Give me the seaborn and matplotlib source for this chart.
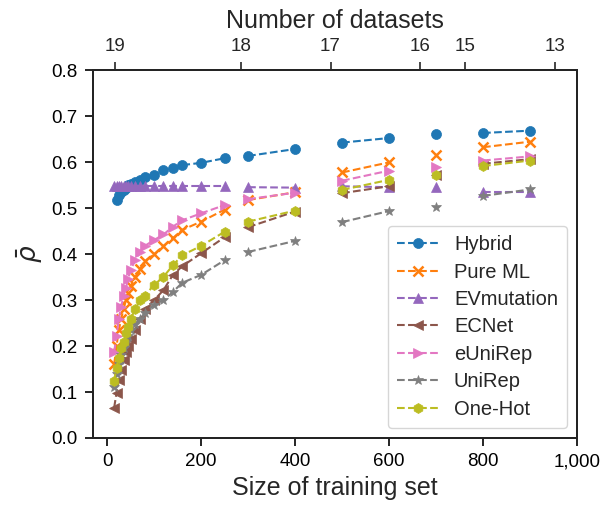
import numpy as np
import pandas as pd
import seaborn as sns
import matplotlib
matplotlib.use("Agg")
import matplotlib.pyplot as plt
from matplotlib.lines import Line2D
from matplotlib.ticker import StrMethodFormatter

# ---------------- data ----------------
train_sizes = [15, 20, 25, 30, 35, 40, 45, 50, 60, 70, 80, 100, 120, 140, 160, 200, 250,
               300, 400, 500, 600, 700, 800, 900]
segments = [1] * 17 + [2, 2, 3, 3, 4, 5, 5]

hybrid = [np.nan, 0.518, 0.528, 0.535, 0.540, 0.545, 0.550, 0.553, 0.558, 0.562, 0.568, 0.573,
          0.584, 0.587, 0.594, 0.599, 0.609,
          0.614, 0.629, 0.643, 0.653, 0.661, 0.664, 0.669]
pure_ml = [0.160, 0.200, 0.235, 0.260, 0.280, 0.300, 0.315, 0.330, 0.350, 0.368, 0.385, 0.400,
           0.418, 0.435, 0.453, 0.471, 0.497,
           0.518, 0.535, 0.578, 0.600, 0.616, 0.633, 0.645]
evmutation = [0.549] * 17 + [0.546, 0.545, 0.548, 0.546, 0.546, 0.535, 0.535]
ecnet = [0.066, 0.098, 0.126, 0.148, 0.169, 0.187, 0.200, 0.215, 0.235, 0.260, 0.280, 0.300,
         0.322, 0.355, 0.374, 0.402, 0.437,
         0.459, 0.493, 0.533, 0.548, 0.572, 0.597, 0.607]
eunirep = [0.187, 0.222, 0.260, 0.286, 0.309, 0.326, 0.347, 0.366, 0.387, 0.405, 0.418, 0.431,
           0.443, 0.460, 0.474, 0.489, 0.507,
           0.520, 0.534, 0.560, 0.582, 0.591, 0.604, 0.613]
unirep = [0.111, 0.140, 0.160, 0.180, 0.195, 0.210, 0.222, 0.235, 0.248, 0.260, 0.272, 0.290,
          0.300, 0.318, 0.338, 0.355, 0.387,
          0.405, 0.429, 0.470, 0.494, 0.502, 0.527, 0.541]
one_hot = [0.124, 0.153, 0.175, 0.195, 0.209, 0.228, 0.242, 0.260, 0.280, 0.300, 0.310, 0.333,
           0.351, 0.376, 0.398, 0.418, 0.449,
           0.471, 0.495, 0.540, 0.562, 0.572, 0.592, 0.604]

models = ["Hybrid", "Pure ML", "EVmutation", "ECNet", "eUniRep", "UniRep", "One-Hot"]
series = [hybrid, pure_ml, evmutation, ecnet, eunirep, unirep, one_hot]

top_tick_pos = [20, 300, 500, 700, 800, 1000]
top_tick_labels = ["19", "18", "17", "16", "15", "13"]

# ---------------- style ----------------
sns.set_style("ticks")
plt.rcParams["font.family"] = ["Liberation Sans", "DejaVu Sans"]
plt.rcParams["mathtext.fontset"] = "dejavusans"

colors = ["#1f77b4", "#ff7f0e", "#9467bd", "#8c564b", "#e377c2", "#7f7f7f", "#bcbd22"]
markers = ["o", "x", "^", "<", ">", "*", "h"]

fig = plt.figure(figsize=(6.02, 5.09), dpi=100)
ax = fig.add_axes([0.1545, 0.1395, 0.804, 0.722])

for m, vals, c, mk in zip(models, series, colors, markers):
    d = pd.DataFrame({"size": train_sizes, "seg": segments, "rho": vals}).dropna()
    sns.lineplot(data=d, x="size", y="rho", units="seg", estimator=None, color=c,
                 marker=mk, markersize=7.2, linewidth=1.5, linestyle="--",
                 markeredgecolor=c, markeredgewidth=(1.8 if mk == "x" else 0.5),
                 legend=False, ax=ax, sort=True)

ax.set_xlim(-30, 1000)
ax.set_ylim(0, 0.8)
ax.set_xticks([0, 200, 400, 600, 800, 1000])
ax.xaxis.set_major_formatter(StrMethodFormatter("{x:,.0f}"))
ax.set_yticks(np.arange(0, 0.81, 0.1))
ax.yaxis.set_major_formatter(StrMethodFormatter("{x:.1f}"))
ax.tick_params(labelsize=13.5, length=6, width=1.2, pad=5, colors="black")
for sp in ax.spines.values():
    sp.set_linewidth(1.3)
    sp.set_color("black")
ax.set_xlabel("Size of training set", fontsize=18, labelpad=4)
ax.set_ylabel(r"$\bar{\rho}$", fontsize=19, labelpad=5)

ax2 = ax.twiny()
ax2.set_xlim(-29, 1049)
ax2.set_xticks(top_tick_pos)
ax2.set_xticklabels(top_tick_labels)
ax2.tick_params(labelsize=13.5, length=6, width=1.2, pad=5)
ax2.set_xlabel("Number of datasets", fontsize=18, labelpad=7)
for sp in ax2.spines.values():
    sp.set_linewidth(1.3)

handles = [Line2D([], [], color=c, marker=mk, linestyle="--", markersize=7.2,
                  markeredgecolor=c, markeredgewidth=(1.8 if mk == "x" else 0.5), linewidth=1.5)
           for c, mk in zip(colors, markers)]
leg = ax.legend(handles, models, loc="lower right", fontsize=14.5, frameon=True,
                handlelength=2.0, borderpad=0.45, labelspacing=0.42)
leg.get_frame().set_edgecolor("#cccccc")

fig.savefig("out.png", dpi=100)
